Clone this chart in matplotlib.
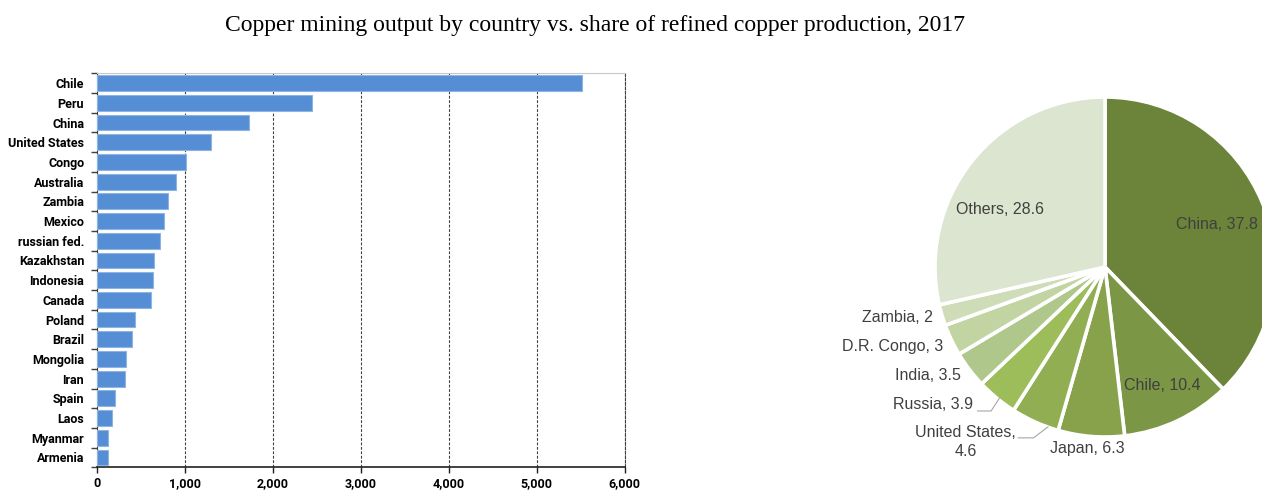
import numpy as np
import matplotlib
matplotlib.use("Agg")
import matplotlib.pyplot as plt
from matplotlib.ticker import FuncFormatter

# mining output (thousand tonnes), 2017
countries = ["Chile", "Peru", "China", "United States", "Congo", "Australia",
             "Zambia", "Mexico", "russian fed.", "Kazakhstan", "Indonesia",
             "Canada", "Poland", "Brazil", "Mongolia", "Iran", "Spain", "Laos",
             "Myanmar", "Armenia"]
output = [5520, 2450, 1730, 1300, 1015, 900, 810, 760, 720, 650, 640, 620,
          435, 400, 330, 320, 210, 170, 130, 130]

# share of refined copper production (%)
refined_labels = ["China", "Chile", "Japan", "United States,\n", "Russia",
                  "India", "D.R. Congo", "Zambia", "Others"]
refined_share = [37.8, 10.4, 6.3, 4.6, 3.9, 3.5, 3, 2, 28.6]
pie_colors = ["#6b843a", "#7b9644", "#87a24b", "#91ae53", "#9dbc5a",
              "#afc78b", "#c2d4a2", "#cfdcb8", "#dce5cf"]
# label positions in pie radius units
label_pos = [(0.66, 0.25), (0.335, -0.70), (-0.105, -1.07), (-0.82, -1.03),
             (-1.01, -0.806), (-1.04, -0.64), (-1.25, -0.47), (-1.22, -0.30),
             (-0.62, 0.34)]

W, H = 1262, 491
fig = plt.figure(figsize=(W / 100, H / 100), dpi=100)
fig.text(595 / W, 1 - 26 / H, "Copper mining output by country vs. share of refined copper production, 2017",
         ha="center", va="center", fontsize=17, family=["Liberation Serif", "DejaVu Serif"])

# ---- bar chart ----
tick_font = ["Roboto", "Liberation Sans", "DejaVu Sans"]
ax = fig.add_axes([96.7 / W, 1 - 467.3 / H, 528 / W, 394 / H])
y = np.arange(len(countries))
ax.barh(y, output, height=0.8, color="#558ed5", edgecolor="#8fb4e3", linewidth=0.8, zorder=3)
ax.set_ylim(len(countries) - 0.5, -0.5)
ax.set_xlim(0, 6000)
ax.set_xticks(np.arange(0, 6001, 1000))
ax.xaxis.set_major_formatter(FuncFormatter(lambda v, p: f"{int(v):,}"))
ax.set_yticks(y)
ax.set_yticklabels(countries)
ax.set_yticks(np.arange(-0.5, len(countries)), minor=True)
ax.tick_params(axis="y", which="major", length=0, pad=9)
ax.tick_params(axis="y", which="minor", length=4, color="#404040", width=1)
ax.tick_params(axis="x", length=4, color="#202020", width=1, pad=3)
for lab in ax.get_xticklabels() + ax.get_yticklabels():
    lab.set_family(tick_font)
    lab.set_fontweight("bold")
    lab.set_fontsize(9)
ax.grid(axis="x", color="#404040", linestyle=(0, (2.5, 1.5)), linewidth=0.8, zorder=1)
ax.spines["right"].set_color("#404040")
ax.spines["right"].set_linestyle((0, (2.5, 1.5)))
ax.spines["right"].set_linewidth(0.8)
ax.spines["top"].set_color("#c8c8c8")
ax.spines["left"].set_color("#404040")
ax.spines["bottom"].set_color("#202020")
ax.spines["bottom"].set_linewidth(1.2)

# ---- pie chart ----
R = 170
pax = fig.add_axes([(1105 - R) / W, 1 - (267 + R) / H, 2 * R / W, 2 * R / H])
pax.pie(refined_share, colors=pie_colors, startangle=90, counterclock=False, radius=1,
        wedgeprops=dict(edgecolor="white", linewidth=2.6))
pax.set_xlim(-1, 1)
pax.set_ylim(-1, 1)
pax.set_aspect("equal")
pax.axis("off")
for name, val, (tx, ty) in zip(refined_labels, refined_share, label_pos):
    sep = "" if name.endswith("\n") else ", "
    pax.text(tx, ty, f"{name}{sep}{val:g}", ha="center", va="center", fontsize=11.5,
             color="#404040", family=["Liberation Sans", "DejaVu Sans"], linespacing=1.3)

# leader lines for small outside labels
for (x0, y0), (x1, y1), (x2, y2) in [((-0.51, -1.005), (-0.42, -1.005), (-0.335, -0.94)),
                                    ((-0.75, -0.847), (-0.67, -0.847), (-0.62, -0.77))]:
    pax.plot([x0, x1, x2], [y0, y1, y2], color="#a6a6a6", linewidth=0.8, clip_on=False)

fig.savefig("out.png", dpi=100)
